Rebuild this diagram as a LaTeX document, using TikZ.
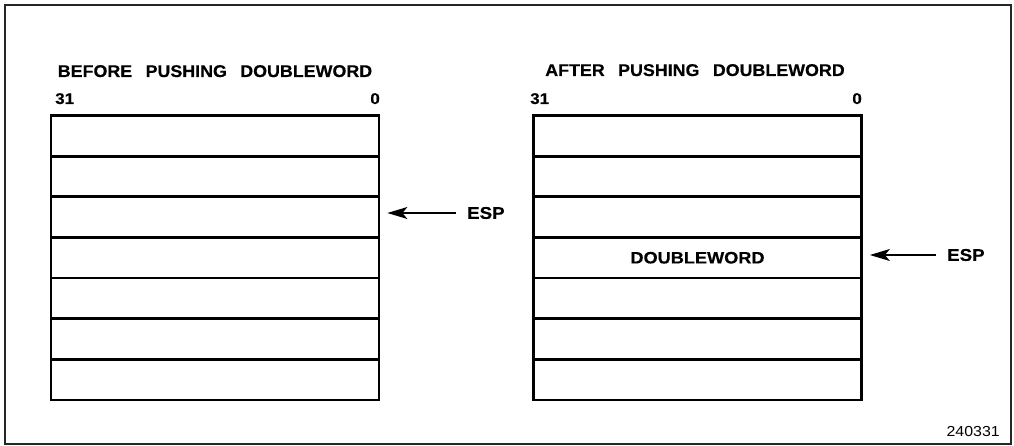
\documentclass[tikz,border=0pt]{standalone}
\usepackage{fontspec}
\setmainfont{Liberation Sans}[FakeStretch=1.1,BoldFeatures={FakeBold=0.4}]
\newfontfamily\headfont{Liberation Sans}[FakeStretch=1.05,WordSpace=2.7,BoldFeatures={FakeBold=0.4}]
\usetikzlibrary{arrows.meta}

\tikzset{
  cell/.style={draw, line width=2.8pt, minimum width=328pt, minimum height=40.64pt,
    inner sep=0pt, font=\bfseries\fontsize{16.5}{18}\selectfont},
  heading/.style={anchor=base, inner sep=0pt, font=\headfont\bfseries\fontsize{17}{18}\selectfont},
  bitno/.style={inner sep=0pt, font=\bfseries\fontsize{15.5}{16}\selectfont},
  reg/.style={anchor=west, inner sep=0pt, font=\bfseries\fontsize{17}{18}\selectfont},
  ptr/.style={line width=1.2pt, -{Stealth[length=20pt,width=12pt,inset=5pt]},
    shorten <=11pt, shorten >=7pt},
}

\begin{document}
\begin{tikzpicture}[x=1pt,y=-1pt]
\useasboundingbox (0,0) rectangle (1014,446);
\draw[line width=1.6pt, black!85] (5,5) rectangle (1011,444);

% stack before the push
\node[heading] (before) at (215,77) {BEFORE PUSHING DOUBLEWORD};
\node[bitno, anchor=base west] (msbL) at (55,104) {31};
\node[bitno, anchor=base east] (lsbL) at (380,104) {0};
\foreach \i in {1,...,7}
  \node[cell] (L\i) at (215,{115.5+40.64*(\i-0.5)}) {};
\node[reg] (espL) at (467,213) {ESP};
\draw[ptr] (espL.west) -- (L3.east |- espL.west);

% stack after the push
\node[heading] (after) at (695,76) {AFTER PUSHING DOUBLEWORD};
\node[bitno, anchor=base west] (msbR) at (530,104) {31};
\node[bitno, anchor=base east] (lsbR) at (862,104) {0};
\foreach \i in {1,2,3,5,6,7}
  \node[cell] (R\i) at (697.5,{115.5+40.64*(\i-0.5)}) {};
\node[cell] (R4) at (697.5,{115.5+40.64*3.5}) {DOUBLEWORD};
\node[reg] (espR) at (947,255) {ESP};
\draw[ptr] (espR.west) -- (R4.east |- espR.west);

\node[anchor=base east, inner sep=0pt, font=\fontsize{14.5}{15}\selectfont] (figno) at (1000,436) {240331};
\end{tikzpicture}
\end{document}
